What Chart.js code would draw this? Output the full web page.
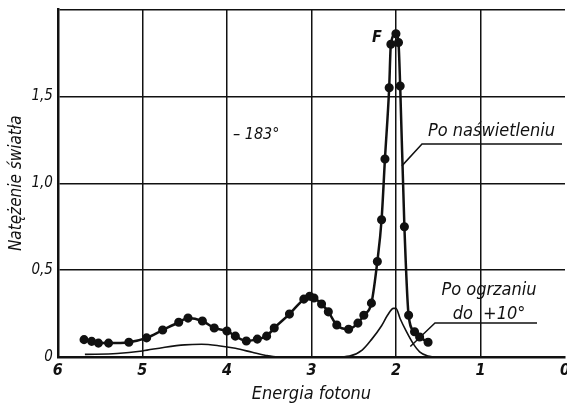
<!DOCTYPE html>
<html>
<head>
<meta charset="utf-8">
<script src="https://cdn.jsdelivr.net/npm/chart.js@4"></script>
<style>
  html, body { margin: 0; padding: 0; background: #fff; overflow: hidden; }
  #wrap { width: 574px; height: 404px; position: relative; }
</style>
</head>
<body>
<div id="wrap"><canvas id="myChart"></canvas></div>
<script>
// krzywa po naświetleniu (z punktami)
const exposedX = [5.69, 5.60, 5.52, 5.40, 5.16, 4.95, 4.76, 4.57, 4.46, 4.29, 4.15, 4.00, 3.90, 3.77, 3.64, 3.53, 3.44, 3.26, 3.09, 3.02, 2.97, 2.88, 2.80, 2.70, 2.56, 2.45, 2.38, 2.29, 2.22, 2.17, 2.13, 2.08, 2.06, 2.00, 1.97, 1.95, 1.90, 1.85, 1.78, 1.72, 1.62]
const exposedY = [0.10, 0.09, 0.08, 0.08, 0.085, 0.11, 0.155, 0.20, 0.224, 0.207, 0.167, 0.15, 0.12, 0.092, 0.103, 0.12, 0.167, 0.247, 0.333, 0.35, 0.34, 0.305, 0.26, 0.184, 0.16, 0.195, 0.24, 0.31, 0.55, 0.79, 1.14, 1.55, 1.80, 1.86, 1.81, 1.56, 0.75, 0.24, 0.145, 0.115, 0.085]

// krzywa po ogrzaniu do +10
const heatedX = [5.68, 5.30, 5.00, 4.75, 4.50, 4.30, 4.10, 3.90, 3.70, 3.55, 3.40, 3.00, 2.70, 2.55, 2.40, 2.29, 2.17, 2.10, 2.03, 2.00, 1.95, 1.88, 1.80, 1.72, 1.62, 1.55]
const heatedY = [0.015, 0.02, 0.035, 0.055, 0.07, 0.073, 0.065, 0.05, 0.027, 0.01, 0.0, 0.0, 0.0, 0.005, 0.04, 0.10, 0.18, 0.24, 0.28, 0.28, 0.22, 0.15, 0.08, 0.03, 0.005, 0.0]

const xTicks = [6, 5, 4, 3, 2, 1, 0]
const yTicks = [0, 0.5, 1.0, 1.5]

const tickFont = "'Liberation Sans Narrow', 'DejaVu Sans Condensed', 'DejaVu Sans', sans-serif"

function toPoints(xs, ys){
    return xs.map((x, i) => ({x: x, y: ys[i]}))
}

const notes = {
    id: 'notes',
    afterDatasetsDraw(chart){
        const ctx = chart.ctx
        const xs = chart.scales.x
        const ys = chart.scales.y
        ctx.save()
        ctx.fillStyle = '#111'
        ctx.strokeStyle = '#111'
        ctx.textBaseline = 'middle'
        ctx.font = "italic 16px " + tickFont
        ctx.textAlign = 'left'
        ctx.fillText('\u2013 183\u00b0', 233, 135)
        ctx.font = "italic bold 16px " + tickFont
        ctx.fillText('F', 372, 38)
        ctx.font = "italic 18px " + tickFont
        ctx.fillText('Po naświetleniu', 428, 131)
        ctx.textAlign = 'center'
        ctx.fillText('Po ogrzaniu', 489, 290)
        ctx.fillText('do  +10\u00b0', 489, 314)

        ctx.lineWidth = 1.5
        ctx.beginPath()
        ctx.moveTo(562, 144)
        ctx.lineTo(422, 144)
        ctx.lineTo(xs.getPixelForValue(1.93), ys.getPixelForValue(1.1))
        ctx.moveTo(537, 323)
        ctx.lineTo(435, 323)
        ctx.lineTo(xs.getPixelForValue(1.83), ys.getPixelForValue(0.06))
        ctx.stroke()
        ctx.restore()
    }
}

const data = {
    datasets: [{
        label: 'Po naświetleniu',
        data: toPoints(exposedX, exposedY),
        borderColor: '#111',
        backgroundColor: '#111',
        borderWidth: 2.5,
        pointRadius: 3.3,
        pointBackgroundColor: '#111',
        pointBorderColor: '#111',
        cubicInterpolationMode: 'monotone',
        fill: false
    }, {
        label: 'Po ogrzaniu do +10°',
        data: toPoints(heatedX, heatedY),
        borderColor: '#111',
        borderWidth: 1.6,
        pointRadius: 0,
        cubicInterpolationMode: 'monotone',
        fill: false
    }]
}

const config = {
    type: 'line',
    data: data,
    plugins: [notes],
    options: {
        responsive: true,
        maintainAspectRatio: false,
        animation: false,
        layout: { padding: { left: 6, right: 0, top: 9, bottom: 0 } },
        plugins: { legend: { display: false }, tooltip: { enabled: false } },
        scales: {
            x: {
                type: 'linear',
                reverse: true,
                min: 0,
                max: 6,
                afterBuildTicks: axis => { axis.ticks = xTicks.map(v => ({value: v})) },
                ticks: {
                    color: '#111',
                    padding: 4,
                    font: { family: tickFont, size: 16, style: 'italic', weight: 'bold' },
                    callback: v => String(v)
                },
                grid: {
                    color: c => c.tick && c.tick.value === 0 ? 'rgba(0,0,0,0)' : '#111',
                    lineWidth: 1.5,
                    drawTicks: false
                },
                border: { color: '#111', width: 2.5 },
                title: {
                    display: true,
                    text: 'Energia fotonu',
                    color: '#111',
                    padding: { top: 0, bottom: 0 },
                    font: { family: tickFont, size: 18, style: 'italic', lineHeight: 1.1 }
                }
            },
            y: {
                min: 0,
                max: 2,
                afterBuildTicks: axis => { axis.ticks = yTicks.concat([2]).map(v => ({value: v})) },
                ticks: {
                    color: '#111',
                    padding: 5,
                    font: { family: tickFont, size: 15, style: 'italic', lineHeight: 0.6 },
                    callback: v => v === 2 ? '' : v === 0 ? '0' : v.toFixed(1).replace('.', ',')
                },
                grid: { color: '#111', lineWidth: 1.5, drawTicks: false },
                border: { color: '#111', width: 2.5 },
                title: {
                    display: true,
                    text: 'Natężenie światła',
                    color: '#111',
                    padding: { top: 0, bottom: 0 },
                    font: { family: tickFont, size: 17, style: 'italic' }
                }
            }
        }
    }
}

const myChart = new Chart(document.getElementById('myChart'), config)
</script>
</body>
</html>
